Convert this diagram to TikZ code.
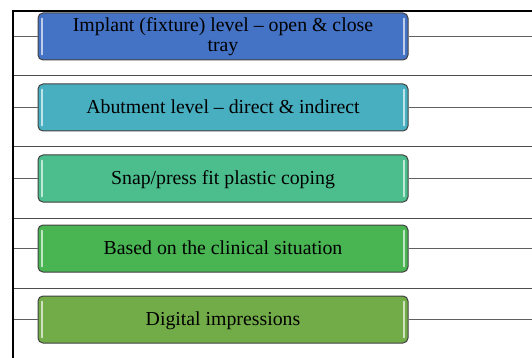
\documentclass[tikz,border=0pt]{standalone}
\usepackage{fontspec}
\setmainfont{Liberation Serif}
\usetikzlibrary{calc}
\definecolor{cA}{RGB}{68,114,196}
\definecolor{cB}{RGB}{72,175,192}
\definecolor{cC}{RGB}{76,190,141}
\definecolor{cD}{RGB}{72,180,82}
\definecolor{cE}{RGB}{114,172,72}
\definecolor{bord}{RGB}{64,64,64}
\definecolor{conn}{RGB}{96,96,96}
\tikzset{
  boxnode/.style={draw=bord, line width=1pt, rounded corners=5pt, fill=#1,
    minimum width=370pt, minimum height=47pt, inner sep=0pt, align=center,
    font=\fontsize{19.8}{19.5}\selectfont, text=black},
  oneline/.style={text height=12pt, text depth=0pt},
  hl/.style={line width=1.8pt, draw=#1!35!white, line cap=round},
  connline/.style={draw=conn, line width=1.3pt},
  sepline/.style={draw=conn!80!black, line width=1pt},
  mainline/.style={draw=black, line width=2.6pt}
}
\begin{document}
\begin{tikzpicture}[x=1pt,y=-1pt]
\useasboundingbox (0,0) rectangle (532,358);
\coordinate (vt) at (13,10);
\coordinate (vb) at (13,358);
\coordinate (tr) at (532,11);
\coordinate (re) at (532,0);
% separators
\foreach \yy/\nm in {76/s1,147/s2,218/s3,288/s4}{
  \coordinate (\nm l) at (13,\yy);
  \coordinate (\nm r) at (532,\yy);
  \draw[sepline] (\nm l) -- (\nm r);
}
% boxes
\node[boxnode=cA] (b1) at (223,36.5) {Implant (fixture) level -- open \& close\\tray};
\node[boxnode=cB, oneline] (b2) at (223,107.5) {Abutment level -- direct \& indirect};
\node[boxnode=cC, oneline] (b3) at (223,178.5) {Snap/press fit plastic coping};
\node[boxnode=cD, oneline] (b4) at (223,248.5) {Based on the clinical situation};
\node[boxnode=cE, oneline] (b5) at (223,319.5) {Digital impressions};
\foreach \b/\c in {b1/cA,b2/cB,b3/cC,b4/cD,b5/cE}{
  \draw[hl=\c] ($(\b.north west)+(4.5,6)$) -- ($(\b.south west)+(4.5,-6)$);
  \draw[hl=\c] ($(\b.north east)+(-4.5,6)$) -- ($(\b.south east)+(-4.5,-6)$);
  \draw[connline] (\b.west -| vt) -- (\b.west);
  \draw[connline] (\b.east) -- (\b.east -| re);
}
% main lines
\draw[mainline] (vt |- tr) -- (tr);
\draw[mainline] (vt) -- (vb);
\end{tikzpicture}
\end{document}
